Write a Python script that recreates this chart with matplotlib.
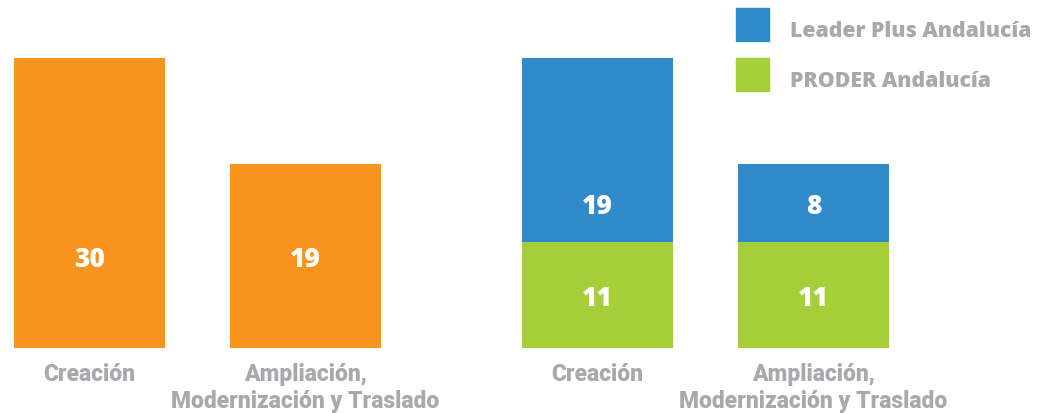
import numpy as np
import matplotlib

matplotlib.use("Agg")

import matplotlib.pyplot as plt
from matplotlib.patches import Rectangle
from matplotlib.transforms import offset_copy

# data
categories = ["Creación", "Ampliación,\nModernización y Traslado"]
total_values = [30, 19]
proder_values = [11, 11]
leader_values = [19, 8]
series_names = ["Leader Plus Andalucía", "PRODER Andalucía"]

ORANGE = "#F7941D"
BLUE = "#318BCB"
GREEN = "#A6CE39"
GRAY = "#A7A9AC"

fig = plt.figure(figsize=(10.5, 4.14), dpi=100)
ax = fig.add_axes([0, 0.157, 1, 0.843])
ax.set_xlim(0, 1050)
ax.set_ylim(0, 36.1)
ax.axis("off")

width = 151
step = 216
left_x = 89.5 + step * np.arange(len(categories))
right_x = left_x + 508

num_kw = dict(color="white", ha="center", va="center", fontsize=19,
              fontweight="heavy", family="Open Sans",
              transform=offset_copy(ax.transData, fig, y=-3, units="dots"))

# left panel: totals
ax.bar(left_x, total_values, width=width, color=ORANGE)
lab_y = min(total_values) / 2
for x, v in zip(left_x, total_values):
    ax.text(x, lab_y, str(v), **num_kw)

# right panel: stacked
ax.bar(right_x, proder_values, width=width, color=GREEN)
ax.bar(right_x, leader_values, width=width, bottom=proder_values, color=BLUE)
for x, v in zip(right_x, proder_values):
    ax.text(x, v / 2, str(v), **num_kw)
blue_y = min(proder_values) + min(leader_values) / 2
for x, v in zip(right_x, leader_values):
    ax.text(x, blue_y, str(v), **num_kw)

# category labels
for xs in (left_x, right_x):
    for x, cat in zip(xs, categories):
        ax.text(x, -1.45, cat, color=GRAY, ha="center", va="top",
                fontsize=16.5, fontweight="heavy", linespacing=1.2,
                family="Roboto")

# legend, drawn by hand
for i, (name, col) in enumerate(zip(series_names, [BLUE, GREEN])):
    y0 = 0.8986 - i * 0.1208
    fig.add_artist(Rectangle((0.701, y0), 0.0314, 0.0797, color=col,
                             transform=fig.transFigure))
    fig.text(0.752, 0.9106 - i * 0.1208, name, color=GRAY, va="baseline",
             fontsize=15.3, fontweight="heavy", family="Open Sans")

fig.savefig("out.png", dpi=100)
